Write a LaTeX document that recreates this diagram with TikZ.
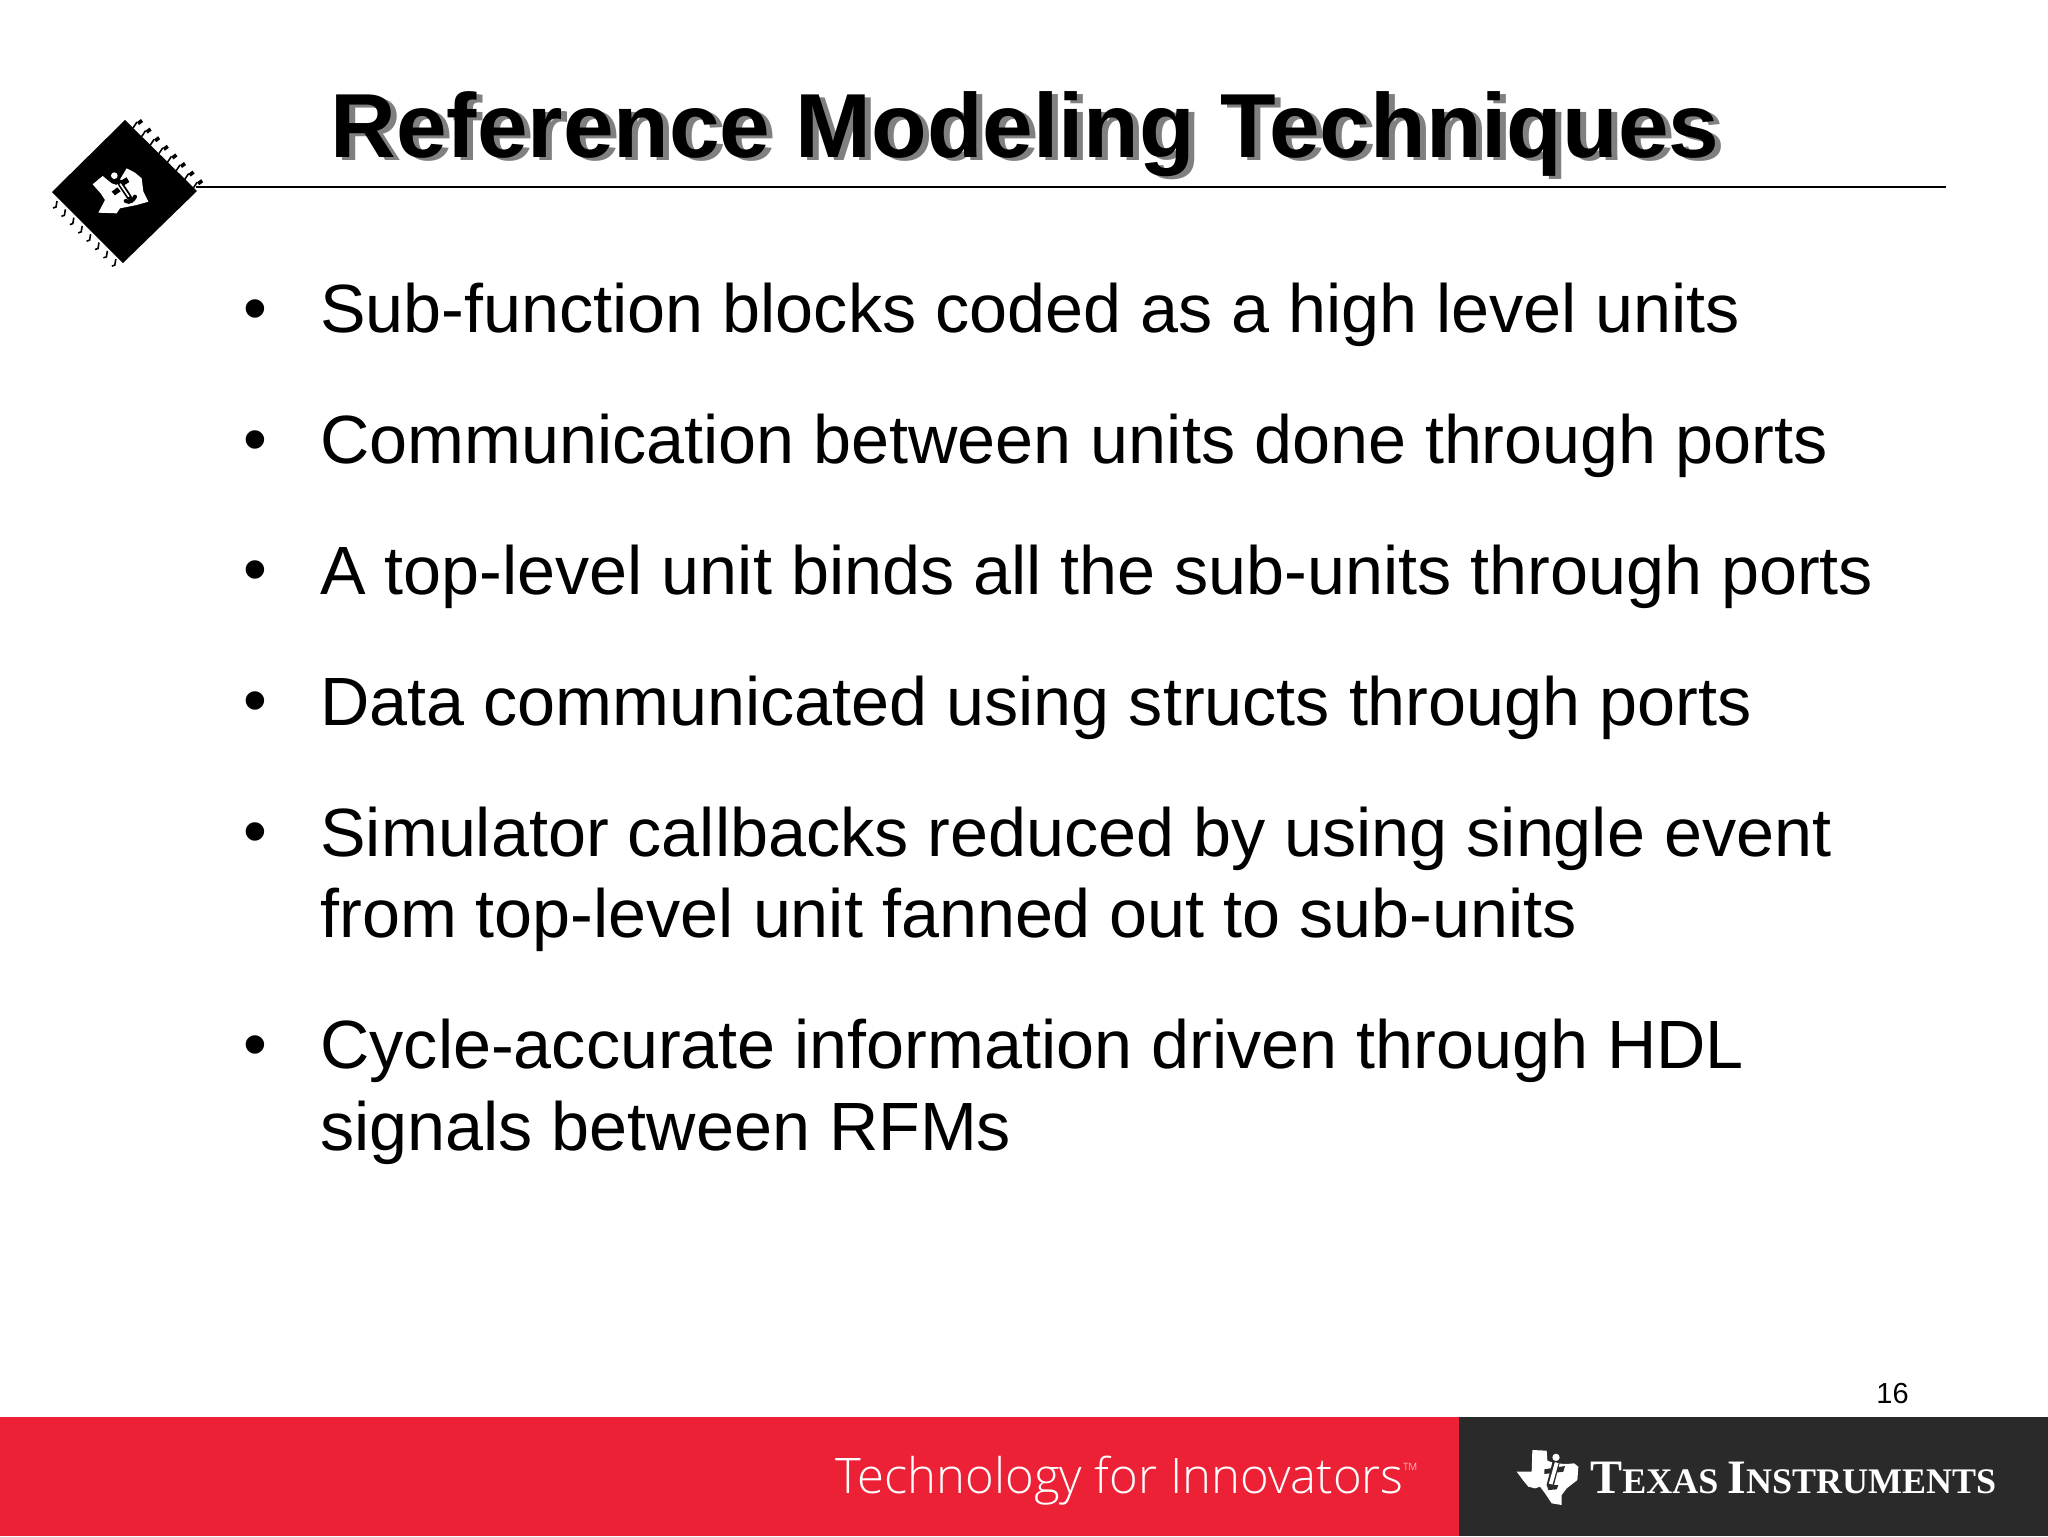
\documentclass[tikz,border=0pt]{standalone}
\usepackage{fontspec}
\setmainfont{Liberation Sans}
\newfontfamily\lato{Open Sans Light}
\newfontfamily\tiserif{Liberation Serif}
\definecolor{tired}{HTML}{ED2136}
\definecolor{tidark}{HTML}{2B2A2B}
\definecolor{titlegray}{HTML}{808080}
\tikzset{
 x=0.5pt,y=-0.5pt,
 bodytext/.style={anchor=base west,inner sep=0pt,font=\fontsize{34.15pt}{40pt}\selectfont,text=black},
 bul/.style={anchor=base,inner sep=0pt,font=\fontsize{34pt}{40pt}\selectfont},
 titletext/.style={anchor=base west,inner sep=0pt,font=\fontsize{45.5pt}{50pt}\selectfont\bfseries},
 lead/.style={line width=0.8pt,black},
 footwhite/.style={anchor=base west,inner sep=0pt,text=white},
}
\begin{document}
\begin{tikzpicture}
\useasboundingbox (0,0) rectangle (2048,1536);
\fill[white] (0,0) rectangle (2048,1536);
% footer
\fill[tired] (0,1417) rectangle (1459,1536);
\fill[tidark] (1459,1417) rectangle (2048,1536);
% title
\node[titletext,text=titlegray] (titleshadow) at (336,160) {Reference Modeling Techniques};
\node[titletext,text=black] (title) at (330,157) {Reference Modeling Techniques};
% rule
\coordinate (ruleL) at (196,187);
\coordinate (ruleR) at (1946,187);
\draw[line width=1.1pt] (ruleL) -- (ruleR);
% chip
\fill[black] (125,120) -- (197,191) -- (123,263) -- (52,192) -- cycle;
\foreach \i in {0,...,7} {
 \draw[lead] ({133+\i*8.6},{128+\i*8.6}) -- ++(4,-6);
 \fill[black] ({137+\i*8.6},{122+\i*8.6}) -- ++(4,-3) -- ++(2,3) -- ++(-4,3) -- cycle;
 \draw[lead] ({57+\i*8.4},{201+\i*8.3}) -- ++(-1,6) -- ++(-3,1);
}
% chip emblem (crop coordinates: 3 units per pixel)
\begin{scope}[shift={(80,150)},x=0.16667pt,y=-0.16667pt]
\fill[white] (38,103) -- (68,78) -- (95,100) -- (110,105) -- (140,55) -- (165,68) -- (185,85) -- (190,125) -- (205,155) -- (170,165) -- (120,175) -- (110,190) -- (55,188) -- (75,150) -- (62,130) -- cycle;
\fill[white] (103,77) circle (10);
\fill[black] (95,125) -- (112,112) -- (122,124) -- (105,136) -- cycle;
\fill[black] (122,92) -- (140,82) -- (148,96) -- (132,106) -- cycle;
\draw[black,line width=2.6pt,line cap=round] (117,95) -- (148,142);
\draw[white,line width=0.8pt,line cap=round] (121,102) -- (146,139);
\draw[black,line width=2pt,line cap=round] (137,153) .. controls (150,160) and (160,150) .. (165,140);
\end{scope}
% bullets and text
\foreach \n/\y in {1/331,2/462,3/592,4/723,5/854,6/1067} {
 \node[bul] (b\n) at (255,\y) {•};
}
\node[bodytext] (t1) at (320,332) {Sub-function blocks coded as a high level units};
\node[bodytext] (t2) at (320,463) {Communication between units done through ports};
\node[bodytext] (t3) at (320,594) {A top-level unit binds all the sub-units through ports};
\node[bodytext] (t4) at (320,725) {Data communicated using structs through ports};
\node[bodytext] (t5) at (320,856) {Simulator callbacks reduced by using single event};
\node[bodytext] (t5b) at (320,937) {from top-level unit fanned out to sub-units};
\node[bodytext] (t6) at (320,1068) {Cycle-accurate information driven through HDL};
\node[bodytext] (t6b) at (320,1150) {signals between RFMs};
% page number
\node[anchor=base west,inner sep=0pt,font=\fontsize{14.5pt}{16pt}\selectfont] (pg) at (1876,1403) {16};
% footer text
\node[footwhite,font=\lato\fontsize{24.5pt}{26pt}\selectfont] (tech) at (835,1493) {Technology for Innovators};
\node[footwhite,font=\lato\fontsize{5pt}{6pt}\selectfont] (tm) at (1403,1470) {TM};
% TI footer logo (crop coordinates: 3 units per pixel)
\begin{scope}[shift={(1500,1440)},x=0.16667pt,y=-0.16667pt]
\fill[white] (97,30) -- (140,32) -- (142,62) -- (165,70) -- (200,72) -- (222,70) -- (235,80) -- (232,120) -- (200,145) -- (185,165) -- (185,195) -- (155,190) -- (135,160) -- (120,140) -- (105,145) -- (85,140) -- (70,122) -- (50,95) -- (95,95) -- cycle;
\fill[tidark] (133,88) -- (195,78) -- (190,95) -- (133,102) -- cycle;
\draw[tidark,line width=3.6pt] (168,68) -- (150,138);
\fill[tidark] (140,135) -- (175,135) -- (170,148) -- (145,150) -- cycle;
\draw[white,line width=1.9pt] (170,68) -- (152,132);
\fill[white] (168,52) circle (11);
\end{scope}
\node[footwhite,font=\tiserif\bfseries] (ti) at (1590,1493) {\fontsize{24pt}{26pt}\selectfont T\fontsize{18pt}{20pt}\selectfont EXAS \fontsize{24pt}{26pt}\selectfont I\fontsize{18pt}{20pt}\selectfont NSTRUMENTS};
\end{tikzpicture}
\end{document}
